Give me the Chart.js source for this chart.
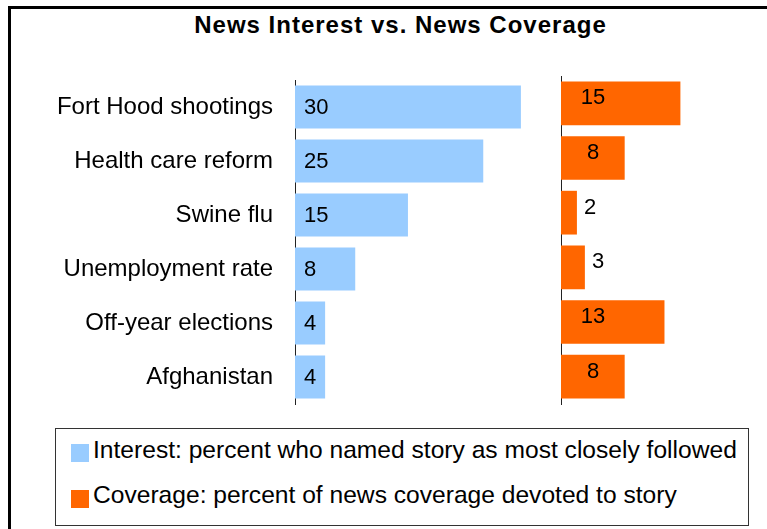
<!DOCTYPE html>
<html>
<head>
<meta charset="utf-8">
<script src="https://cdn.jsdelivr.net/npm/chart.js@4.4.1/dist/chart.umd.min.js"></script>
<style>
  body { margin: 0; background: #fff; }
  #wrap { position: relative; width: 767px; height: 529px; overflow: hidden; font-family: "Liberation Sans", Arial, sans-serif; color: #000; }
  #frame { position: absolute; left: 8px; top: 6px; width: 800px; height: 600px; border-left: 3px solid #000; border-top: 3px solid #000; }
  #title { position: absolute; left: 0; width: 801px; top: 13px; line-height: 24px; text-align: center; font-weight: bold; font-size: 24px; letter-spacing: 1px; }
  #interest { position: absolute; left: 0; top: 0; }
  #coverage { position: absolute; left: 560px; top: 0; }
  .legend { position: absolute; left: 55px; top: 428px; width: 692px; height: 96px; border: 1px solid #333; }
  .item { position: absolute; left: 37px; font-size: 24.6px; line-height: 24px; white-space: nowrap; }
  .swatch { position: absolute; left: 15px; width: 18px; height: 18px; }
</style>
</head>
<body>
<div id="wrap">
  <div id="frame"></div>
  <div id="title"></div>
  <canvas id="interest" width="545" height="420"></canvas>
  <canvas id="coverage" width="200" height="420"></canvas>
  <div class="legend" id="legend"></div>
</div>
<script>
const chartTitle = 'News Interest vs. News Coverage';
const categories = ['Fort Hood shootings', 'Health care reform', 'Swine flu', 'Unemployment rate', 'Off-year elections', 'Afghanistan'];
const interest = [30, 25, 15, 8, 4, 4];
const coverage = [15, 8, 2, 3, 13, 8];
const seriesNames = [
  'Interest: percent who named story as most closely followed',
  'Coverage: percent of news coverage devoted to story'
];
const seriesColors = ['#99CCFF', '#FF6600'];

const FONT = '"Liberation Sans", Arial, sans-serif';

document.getElementById('title').textContent = chartTitle;

// legend box under both panels
const legend = document.getElementById('legend');
const legendRows = [{ sw: 15, tx: 8.5 }, { sw: 61, tx: 53.5 }];
seriesNames.forEach((name, i) => {
  const sw = document.createElement('div');
  sw.className = 'swatch';
  sw.style.top = legendRows[i].sw + 'px';
  sw.style.background = seriesColors[i];
  legend.appendChild(sw);
  const tx = document.createElement('div');
  tx.className = 'item';
  tx.style.top = legendRows[i].tx + 'px';
  tx.textContent = name;
  legend.appendChild(tx);
});

// numbers on the bars
const valueLabels = {
  id: 'valueLabels',
  afterDatasetsDraw(chart, args, opts) {
    const ctx = chart.ctx;
    const values = chart.data.datasets[0].data;
    ctx.save();
    ctx.font = '22px ' + FONT;
    ctx.fillStyle = '#000';
    ctx.textBaseline = 'middle';
    chart.getDatasetMeta(0).data.forEach((bar, i) => {
      const txt = String(values[i]);
      if (opts.mode === 'start') {
        ctx.textAlign = 'left';
        ctx.fillText(txt, bar.base + 9, bar.y + 1);
      } else if (bar.x - bar.base < 30) {
        ctx.textAlign = 'left';
        ctx.fillText(txt, bar.x + 7, bar.y - 5);
      } else {
        ctx.textAlign = 'center';
        ctx.fillText(txt, bar.base + 32, bar.y - 5);
      }
    });
    ctx.restore();
  }
};

function panel(canvasId, values, color, xMax, showLabels, mode, top) {
  return new Chart(document.getElementById(canvasId), {
    type: 'bar',
    data: {
      labels: categories,
      datasets: [{
        data: values,
        backgroundColor: color,
        categoryPercentage: 1,
        barPercentage: 0.8
      }]
    },
    options: {
      indexAxis: 'y',
      responsive: false,
      animation: false,
      layout: { padding: { top: top, bottom: 16, left: 0, right: 0 } },
      plugins: {
        legend: { display: false },
        tooltip: { enabled: false },
        valueLabels: { mode: mode }
      },
      scales: {
        x: { display: false, min: 0, max: xMax },
        y: {
          grid: { display: false, drawTicks: false },
          border: { display: true, color: '#222', width: 1 },
          ticks: {
            display: showLabels,
            color: '#000',
            padding: 22,
            font: { size: 24, family: FONT }
          },
          afterFit: (scale) => {
            scale.width = showLabels ? 295 : 1;
            scale.paddingTop = 0;
            scale.paddingBottom = 0;
          }
        }
      }
    },
    plugins: [valueLabels]
  });
}

panel('interest', interest, seriesColors[0], 33.2, true, 'start', 80);
panel('coverage', coverage, seriesColors[1], 25, false, 'center', 76);
</script>
</body>
</html>
